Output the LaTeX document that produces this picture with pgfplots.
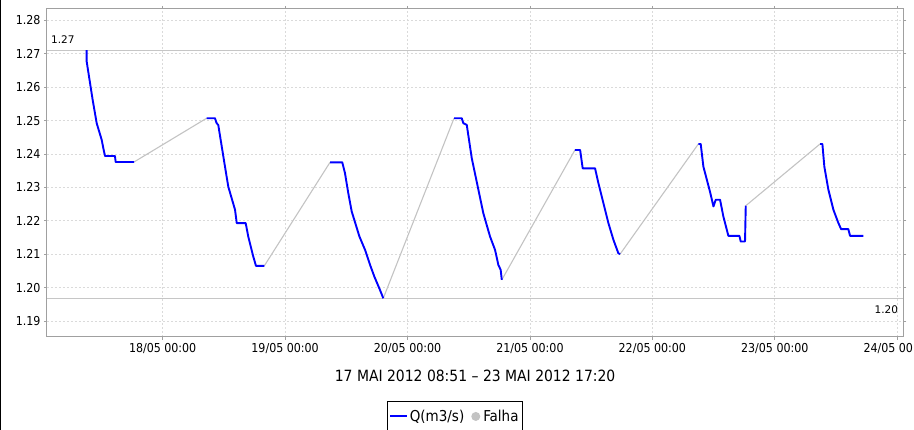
\documentclass[border=0pt]{standalone}
\usepackage{pgfplots}
\pgfplotsset{compat=1.18}
\usepackage{fontspec}
\setmainfont{DejaVu Sans Condensed}
\newfontfamily\lblfont{DejaVu Sans}
\definecolor{qblue}{RGB}{0,0,255}
\definecolor{falha}{RGB}{195,195,195}
\definecolor{thr}{RGB}{198,198,198}
\definecolor{gridc}{RGB}{218,218,218}
\definecolor{framec}{RGB}{160,160,160}
\begin{document}
\begin{tikzpicture}
\begin{axis}[name=ax, scale only axis, width=856.3pt, height=327.7pt,
  xmin=0.055, xmax=7.050, ymin=1.1853, ymax=1.2834,
  xtick={1,2,3,4,5,6,7},
  xticklabels={18/05 00:00,19/05 00:00,20/05 00:00,21/05 00:00,22/05 00:00,23/05 00:00,24/05 00:00},
  ytick={1.19,1.20,1.21,1.22,1.23,1.24,1.25,1.26,1.27,1.28},
  yticklabel style={/pgf/number format/.cd, fixed, fixed zerofill, precision=2, assume math mode=true},
  ticklabel style={font=\fontsize{12.3}{14}\selectfont},
  tick align=outside, major tick length=3pt,
  tick style={framec, line width=0.8pt},
  axis line style={framec, line width=1pt},
  grid=major,
  major grid style={gridc, dash pattern=on 2pt off 2pt, line width=0.7pt},
  xlabel={17 MAI 2012 08:51 – 23 MAI 2012 17:20},
  xlabel style={font=\fontsize{15.5}{18}\selectfont, at={(axis description cs:0.5,-0.092)}, anchor=north},
  legend columns=2,
  legend style={at={(0.397,-0.195)}, anchor=north west, draw=black, line width=0.8pt,
    font=\fontsize{15}{18}\selectfont, inner xsep=2pt, inner ysep=7pt,
    nodes={inner xsep=1.5pt}},
  unbounded coords=jump,
  clip=true,
]
% threshold lines
\addplot[thr, line width=1.1pt, forget plot] coordinates {(0.055,1.2711) (7.050,1.2711)};
\addplot[thr, line width=1.1pt, forget plot] coordinates {(0.055,1.1968) (7.050,1.1968)};
% failure (gap) segments
\addplot[falha, line width=1.1pt, forget plot] coordinates {
(0.766,1.2376) (1.359,1.2507) (nan,nan)
(1.830,1.2065) (2.367,1.2375) (nan,nan)
(2.802,1.1968) (3.380,1.2507) (nan,nan)
(3.770,1.2023) (4.368,1.2412) (nan,nan)
(4.736,1.2100) (5.376,1.2430) (nan,nan)
(5.763,1.2245) (6.370,1.2430)
};
% measured series
\addplot[qblue, line width=1.9pt, line join=round] coordinates {
(0.379,1.2711) (0.379,1.2677) (0.428,1.2562) (0.461,1.2492) (0.502,1.2442) (0.518,1.2412)
(0.529,1.2394) (0.610,1.2394) (0.616,1.2376) (0.766,1.2376) (nan,nan)
(1.359,1.2507) (1.427,1.2507) (1.441,1.2492) (1.454,1.2487) (1.509,1.2362) (1.536,1.2302)
(1.591,1.2233) (1.605,1.2193) (1.678,1.2193) (1.699,1.2153) (1.740,1.2093) (1.762,1.2065)
(1.830,1.2065) (nan,nan)
(2.367,1.2375) (2.467,1.2375) (2.489,1.2343) (2.516,1.2283) (2.544,1.2228) (2.607,1.2153)
(2.653,1.2113) (2.699,1.2063) (2.729,1.2033) (2.775,1.1993) (2.802,1.1968) (nan,nan)
(3.380,1.2507) (3.443,1.2507) (3.456,1.2492) (3.484,1.2487) (3.525,1.2387) (3.579,1.2293)
(3.619,1.2223) (3.674,1.2153) (3.715,1.2113) (3.742,1.2068) (3.761,1.2053) (3.770,1.2023) (nan,nan)
(4.368,1.2412) (4.410,1.2412) (4.431,1.2357) (4.532,1.2357) (4.559,1.2313) (4.600,1.2253)
(4.641,1.2193) (4.682,1.2143) (4.722,1.2103) (4.736,1.2100) (nan,nan)
(5.376,1.2430) (5.395,1.2430) (5.417,1.2362) (5.471,1.2287) (5.499,1.2243) (5.518,1.2263)
(5.553,1.2263) (5.580,1.2213) (5.621,1.2155) (5.711,1.2155) (5.722,1.2138) (5.757,1.2138)
(5.763,1.2245) (nan,nan)
(6.370,1.2430) (6.389,1.2430) (6.405,1.2362) (6.438,1.2293) (6.479,1.2233) (6.520,1.2193)
(6.542,1.2175) (6.601,1.2175) (6.615,1.2155) (6.724,1.2155)
};
\addlegendentry{Q(m3/s)}
\addlegendimage{draw=none, legend image code/.code={\path[draw=none] (0pt,0pt) -- (16pt,0pt); \fill[falha, draw=none] (10pt,0pt) circle (4.5pt);}}
\addlegendentry{Falha}
\node[anchor=south west, font=\lblfont\fontsize{10.5}{12}\selectfont, inner sep=0pt] at (rel axis cs:0.0047,0.895) {1.27};
\node[anchor=north east, font=\lblfont\fontsize{10.5}{12}\selectfont, inner sep=0pt] at (rel axis cs:0.994,0.096) {1.20};
\end{axis}
\pgfresetboundingbox
\path[use as bounding box] ([xshift=-47pt,yshift=-93.3pt]ax.south west) rectangle ([xshift=10.7pt,yshift=9pt]ax.north east);
\draw[black, line width=2.5pt] ([xshift=-47pt,yshift=-93.3pt]ax.south west) -- ([xshift=-47pt,yshift=9pt]ax.north west);
\end{tikzpicture}
\end{document}
